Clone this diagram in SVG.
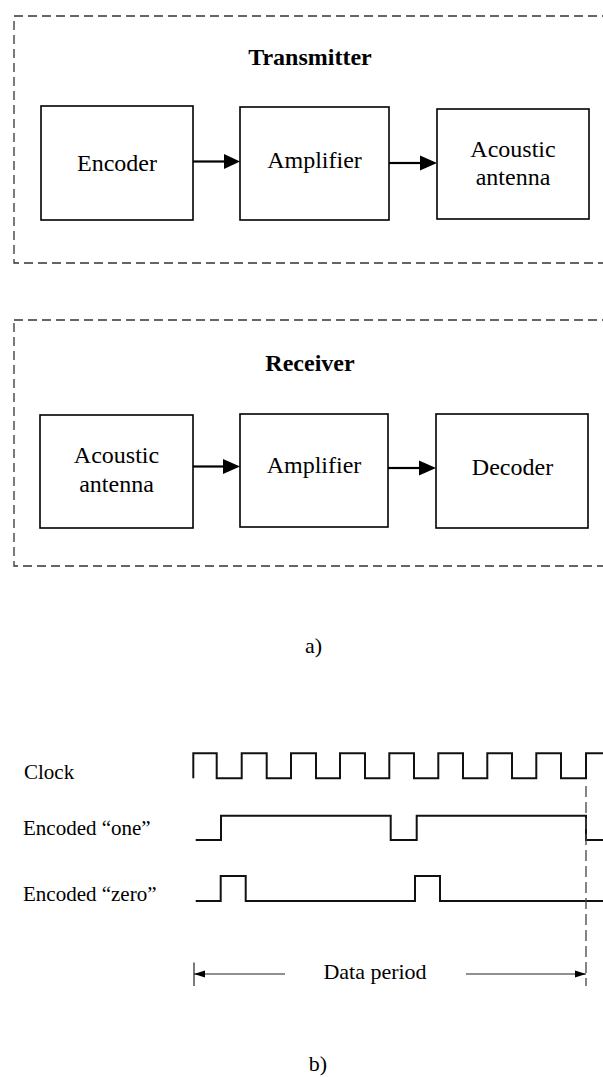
<svg xmlns="http://www.w3.org/2000/svg" width="603" height="1077" viewBox="0 0 603 1077">
<style>
.bg{fill:#fff}
.frame{fill:none;stroke:#333;stroke-width:1.3;stroke-dasharray:9,5}
.box{fill:#fff;stroke:#000;stroke-width:1.6}
.t{font-family:"Liberation Serif","Times New Roman",serif;font-size:24px;fill:#000;text-anchor:middle}
.title{font-weight:bold}
.lbl{font-family:"Liberation Serif","Times New Roman",serif;font-size:21px;fill:#000}
.cap{font-family:"Liberation Serif","Times New Roman",serif;font-size:22px;fill:#000;text-anchor:middle}
.conn{stroke:#000;stroke-width:2.2;fill:none}
.head{fill:#000}
.wave{fill:none;stroke:#111;stroke-width:2}
.vdash{fill:none;stroke:#444;stroke-width:1.3;stroke-dasharray:11,5}
.dim{fill:none;stroke:#222;stroke-width:1.2}
</style>
<rect class="bg" x="0" y="0" width="603" height="1077"/>

<g id="transmitter">
  <rect class="frame" x="14" y="16" width="600" height="247"/>
  <text class="t title" x="310" y="65">Transmitter</text>
</g>
<g id="tx-encoder">
  <rect class="box" x="41" y="106" width="152" height="114"/>
  <text class="t" x="117" y="171">Encoder</text>
</g>
<g id="tx-amplifier">
  <rect class="box" x="240" y="107" width="149" height="113"/>
  <text class="t" x="314.5" y="168">Amplifier</text>
</g>
<g id="tx-antenna">
  <rect class="box" x="437" y="109" width="152" height="110"/>
  <text class="t" x="513" y="157">Acoustic</text>
  <text class="t" x="513" y="185">antenna</text>
</g>

<g id="receiver">
  <rect class="frame" x="14" y="320" width="600" height="246"/>
  <text class="t title" x="310" y="371">Receiver</text>
</g>
<g id="rx-antenna">
  <rect class="box" x="40" y="415" width="153" height="113"/>
  <text class="t" x="116.5" y="463">Acoustic</text>
  <text class="t" x="116.5" y="492">antenna</text>
</g>
<g id="rx-amplifier">
  <rect class="box" x="240" y="414" width="148" height="113"/>
  <text class="t" x="314" y="473">Amplifier</text>
</g>
<g id="rx-decoder">
  <rect class="box" x="436" y="414" width="152" height="114"/>
  <text class="t" x="512.5" y="475">Decoder</text>
</g>

<g id="connectors">
  <line class="conn" x1="193" y1="161.5" x2="225" y2="161.5"/>
  <polygon class="head" points="224,154 240,161.5 224,169"/>
  <line class="conn" x1="389" y1="163" x2="421" y2="163"/>
  <polygon class="head" points="420,155.5 437,163 420,170.5"/>
  <line class="conn" x1="193" y1="466.5" x2="224" y2="466.5"/>
  <polygon class="head" points="223,459 240,466.5 223,474"/>
  <line class="conn" x1="388" y1="468" x2="420" y2="468"/>
  <polygon class="head" points="419,460.5 436,468 419,475.5"/>
</g>

<text class="cap" x="313.5" y="653">a)</text>

<g id="timing">
  <text class="lbl" x="24" y="779">Clock</text>
  <text class="lbl" x="23" y="835">Encoded “one”</text>
  <text class="lbl" x="23" y="901">Encoded “zero”</text>

  <path class="wave" d="M193.3,778.3 V753.3 H216.7 V778.3 H241.7 V753.3 H266.7 V778.3 H291 V753.3 H316 V778.3 H340 V753.3 H365 V778.3 H389.3 V753.3 H414 V778.3 H438.3 V753.3 H463 V778.3 H487.3 V753.3 H512 V778.3 H536.3 V753.3 H561 V778.3 H586 V753.3 H604"/>
  <path class="wave" d="M195.7,840 H221 V815.7 H390.7 V840 H416.7 V815.7 H586 V840 H604"/>
  <path class="wave" d="M195.7,901 H220.7 V876 H245.7 V901 H415 V876 H440 V901 H604"/>

  <line class="vdash" x1="586" y1="786" x2="586" y2="986"/>

  <line class="dim" x1="194" y1="962.5" x2="194" y2="986"/>
  <line class="dim" x1="194" y1="974" x2="285" y2="974"/>
  <polygon class="head" points="194,974 205,970.5 205,977.5"/>
  <line class="dim" x1="466" y1="974" x2="586" y2="974"/>
  <polygon class="head" points="586,974 575,970.5 575,977.5"/>
  <text class="cap" x="375" y="979">Data period</text>
</g>

<text class="cap" x="318" y="1071">b)</text>
</svg>
